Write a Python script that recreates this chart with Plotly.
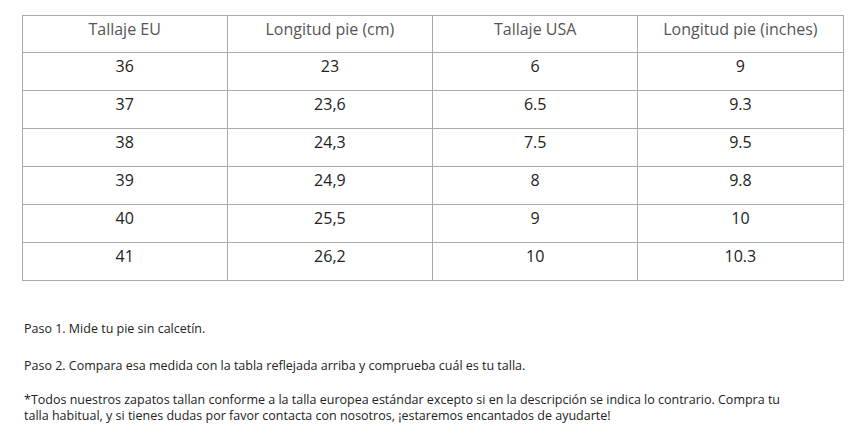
import plotly.graph_objects as go

W, H = 865, 442
OFF = 8  # page body margin
headers = ["Tallaje EU", "Longitud pie (cm)", "Tallaje USA", "Longitud pie (inches)"]
eu = ["36", "37", "38", "39", "40", "41"]
cm = ["23", "23,6", "24,3", "24,9", "25,5", "26,2"]
usa = ["6", "6.5", "7.5", "8", "9", "10"]
inches = ["9", "9.3", "9.5", "9.8", "10", "10.3"]
notes = [
    "Paso 1. Mide tu pie sin calcetín.",
    "Paso 2. Compara esa medida con la tabla reflejada arriba y comprueba cuál es tu talla.",
    "*Todos nuestros zapatos tallan conforme a la talla europea estándar excepto si en la descripción se indica lo contrario. Compra tu<br>talla habitual, y si tienes dudas por favor contacta con nosotros, ¡estaremos encantados de ayudarte!",
]

font = "Open Sans, sans-serif"
fig = go.Figure(go.Table(
    domain=dict(x=[(22 - OFF) / W, (843 - OFF) / W], y=[1 - (285 - OFF) / H, 1 - (15 - OFF) / H]),
    columnwidth=[1, 1, 1, 1],
    header=dict(values=headers, height=37, align="center",
                fill_color="white", line=dict(color="#aaaaaa", width=1),
                font=dict(family=font, size=16, color="#555555")),
    cells=dict(values=[eu, cm, usa, inches], height=38, align="center",
               fill_color="white", line=dict(color="#aaaaaa", width=1),
               font=dict(family=font, size=16, color="#222222")),
))
ys = [328, 365, 407]
for t, y in zip(notes, ys):
    fig.add_annotation(text=t, x=(22 - OFF) / W, y=1 - (y - OFF) / H, xref="paper", yref="paper",
                       xanchor="left", yanchor="middle", align="left", showarrow=False,
                       font=dict(family=font, size=12.5, color="#222222"))
fig.update_layout(width=W, height=H, margin=dict(l=0, r=0, t=0, b=0),
                  paper_bgcolor="white", plot_bgcolor="white")
fig.write_html("out.html")
